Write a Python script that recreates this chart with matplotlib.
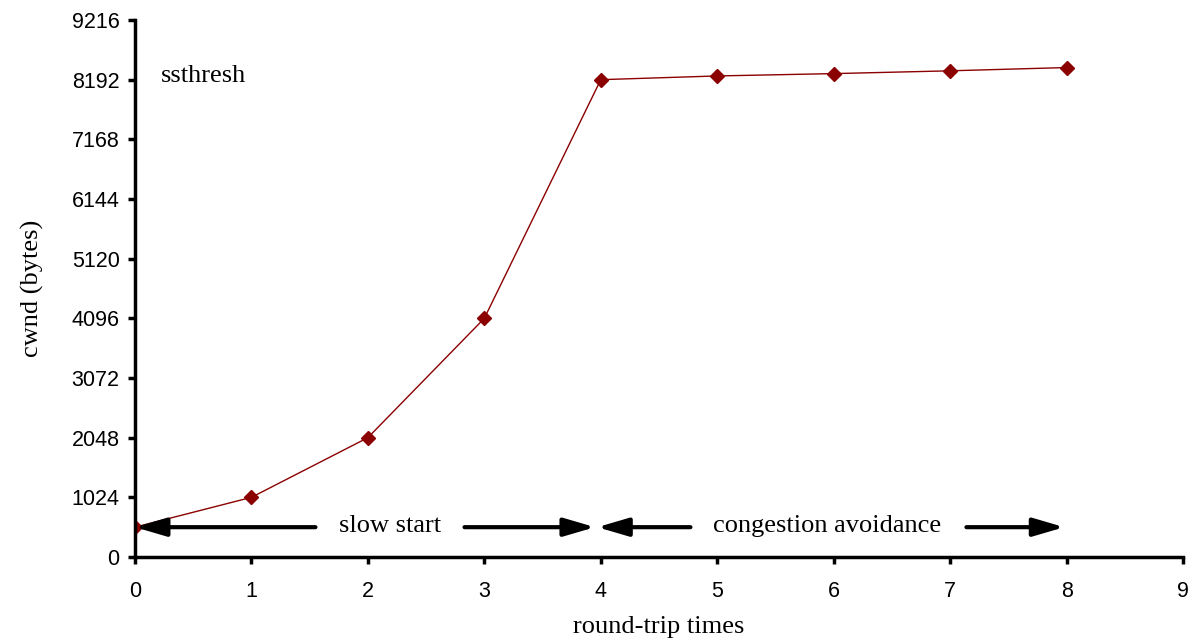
import numpy as np
import matplotlib.pyplot as plt

# data
rtt = [0, 1, 2, 3, 4, 5, 6, 7, 8]
cwnd = [512, 1024, 2048, 4096, 8192, 8256, 8296, 8344, 8400]
yticks = [0, 1024, 2048, 3072, 4096, 5120, 6144, 7168, 8192, 9216]
xticks = list(range(10))

serif = ['Liberation Serif', 'DejaVu Serif']
sans = ['Liberation Sans', 'DejaVu Sans']

fig = plt.figure(figsize=(11.89, 6.39), dpi=100)
ax = fig.add_axes([0.1135, 0.1283, 0.8815, 0.8404])

ax.plot(rtt, cwnd, color='#8b0000', lw=1.0, marker='D', markersize=7.5)

ax.set_xlim(0, 9)
ax.set_ylim(0, 9216)
ax.set_xticks(xticks)
ax.set_yticks(yticks)
for lab in ax.get_xticklabels() + ax.get_yticklabels():
    lab.set_family(sans)
    lab.set_fontsize(15.5)
ax.tick_params(direction='out', length=5, width=2.5)
ax.tick_params(axis='x', pad=12)
ax.tick_params(axis='y', pad=6)
for s in ['top', 'right']:
    ax.spines[s].set_visible(False)
for s in ['left', 'bottom']:
    ax.spines[s].set_linewidth(2.5)

ax.set_xlabel('round-trip times', family=serif, fontsize=19, labelpad=10)
ax.set_ylabel('cwnd (bytes)', family=serif, fontsize=19, labelpad=20)

ax.text(0.22, 8260, 'ssthresh', family=serif, fontsize=19, ha='left', va='center')

# phase arrows
arr_y = 512
aprops = dict(arrowstyle='-|>,head_length=0.75,head_width=0.22', color='black',
              lw=3, mutation_scale=25, shrinkA=0, shrinkB=0)
ax.annotate('', xy=(0.0, arr_y), xytext=(1.55, arr_y), arrowprops=aprops)
ax.annotate('', xy=(3.95, arr_y), xytext=(2.83, arr_y), arrowprops=aprops)
ax.annotate('', xy=(3.97, arr_y), xytext=(4.77, arr_y), arrowprops=aprops)
ax.annotate('', xy=(7.98, arr_y), xytext=(7.14, arr_y), arrowprops=aprops)
ax.text(2.19, arr_y + 20, 'slow start', family=serif, fontsize=19, ha='center', va='center')
ax.text(5.94, arr_y + 20, 'congestion avoidance', family=serif, fontsize=19, ha='center', va='center')

fig.savefig('out.png', dpi=100)
